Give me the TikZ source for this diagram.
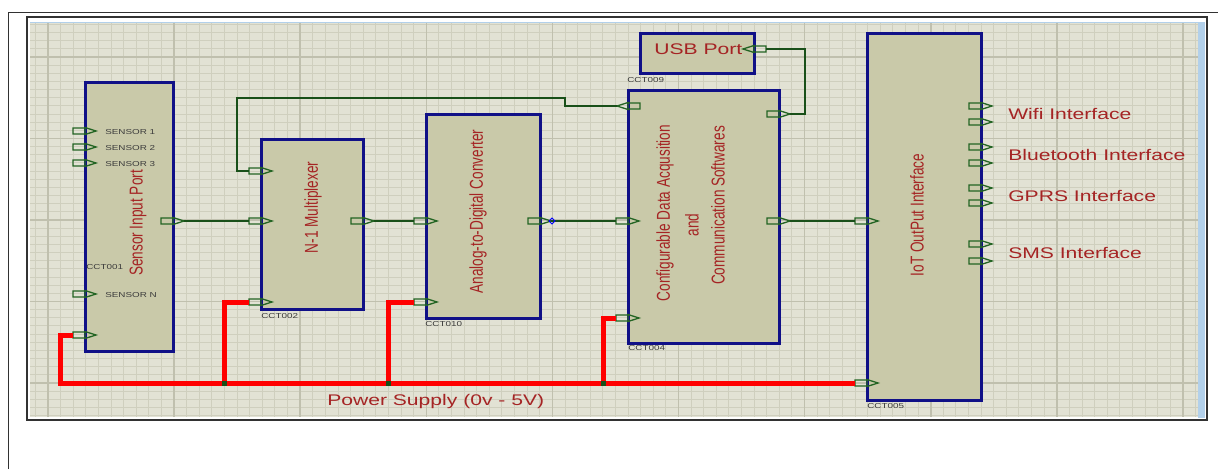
\documentclass[tikz,border=0pt]{standalone}
\usepackage{fontspec}
\setmainfont{Liberation Sans}
\usetikzlibrary{positioning,calc}

\definecolor{gridbg}{RGB}{226,226,212}
\definecolor{gridmin}{RGB}{207,207,190}
\definecolor{gridmaj}{RGB}{192,192,174}
\definecolor{blkfill}{RGB}{201,201,169}
\definecolor{blkline}{RGB}{16,16,135}
\definecolor{wirecol}{RGB}{25,80,25}
\definecolor{pincol}{RGB}{35,100,35}
\definecolor{lblred}{RGB}{165,36,36}
\definecolor{tagcol}{RGB}{60,60,60}
\definecolor{pwrcol}{RGB}{255,0,0}
\definecolor{frame}{RGB}{50,50,50}
\definecolor{paneblue}{RGB}{178,208,234}

% pin pointing right, box edge at #2, height #3
\newcommand\pinR[3]{%
  \draw[pinline] (#2-12,#3-3) rectangle (#2,#3+3) (#2,#3-3.5) -- (#2+11,#3) -- (#2,#3+3.5) -- cycle;
  \coordinate (#1a) at (#2-12,#3);
  \coordinate (#1b) at (#2+11,#3);}
% pin pointing left
\newcommand\pinL[3]{%
  \draw[pinline] (#2,#3-3) rectangle (#2+12,#3+3) (#2,#3-3.5) -- (#2-11,#3) -- (#2,#3+3.5) -- cycle;
  \coordinate (#1a) at (#2-11,#3);
  \coordinate (#1b) at (#2+12,#3);}

\begin{document}
\begin{tikzpicture}[x=1pt,y=-1pt,
  blk/.style={draw=blkline,fill=blkfill,line width=3pt,inner sep=0pt},
  pinline/.style={draw=pincol,line width=1.3pt},
  sig/.style={draw=wirecol,line width=2pt},
  pwr/.style={draw=pwrcol,line width=5pt},
  vtext/.style={rotate=90,yscale=1.37,text=lblred,inner sep=0pt,font=\fontsize{13.6}{16}\selectfont},
  htext/.style={xscale=1.37,text=lblred,inner sep=0pt,anchor=base west,font=\fontsize{15.4}{18}\selectfont},
  tag/.style={xscale=1.37,text=tagcol,inner sep=0pt,anchor=base west,font=\fontsize{7.2}{8}\selectfont}]
 \useasboundingbox[fill=white] (0,0) rectangle (1218,469);
 % window frames
 \draw[frame,line width=1pt] (8,469) -- (8,12) -- (1218,12);
 \draw[frame,line width=1.5pt] (27,17) rectangle (1207,420);
 \fill[paneblue] (1198,22) rectangle (1205,418);
 \draw[paneblue,line width=1pt] (30,22) -- (1198,22);
 % grid
 \begin{scope}
  \clip (30,23) rectangle (1198,417);
  \fill[gridbg] (30,23) rectangle (1198,417);
  \foreach \k in {-2,...,92} \draw[gridmin,line width=1pt] ({48+12.61*\k},23) -- ++(0,394);
  \foreach \k in {-5,...,45} \draw[gridmin,line width=1pt] (30,{383-8.15*\k}) -- ++(1168,0);
  \foreach \k in {0,...,9} \draw[gridmaj,line width=1.6pt] ({48+126.1*\k},23) -- ++(0,394);
  \foreach \k in {0,...,4} \draw[gridmaj,line width=1.6pt] (30,{383-81.5*\k}) -- ++(1168,0);
 \end{scope}

 % blocks
 \node[blk,minimum width=88,minimum height=269] (sip) at (129,216.5) {};
 \node[blk,minimum width=102,minimum height=170] (mux) at (312,224) {};
 \node[blk,minimum width=114,minimum height=204] (adc) at (483,216) {};
 \node[blk,minimum width=151,minimum height=253] (cfg) at (703.5,216.5) {};
 \node[blk,minimum width=114,minimum height=40] (usb) at (697,53) {};
 \node[blk,minimum width=114,minimum height=367] (iot) at (924,216.5) {};

 % pins
 \foreach \y [count=\k] in {131,147,163,294} {\pinR{sipS\k}{85}{\y}}
 \pinR{sipP}{85}{335} \pinR{sipO}{173}{221}
 \pinR{muxF}{261}{171} \pinR{muxI}{261}{221} \pinR{muxP}{261}{302} \pinR{muxO}{363}{221}
 \pinR{adcI}{426}{221} \pinR{adcP}{426}{302} \pinR{adcO}{540}{221}
 \pinL{cfgF}{628}{106} \pinR{cfgI}{628}{221} \pinR{cfgP}{628}{318}
 \pinR{cfgU}{779}{114} \pinR{cfgO}{779}{221}
 \pinL{usbP}{754}{49}
 \pinR{iotI}{867}{221} \pinR{iotP}{867}{383}
 \foreach \y [count=\k] in {106,122,147,163,188,203,244,261} {\pinR{iotR\k}{981}{\y}}

 % signal wires
 \draw[sig] (sipOb) -- (muxIa);
 \draw[sig] (muxOb) -- (adcIa);
 \draw[sig] (adcOb) -- (cfgIa);
 \draw[sig] (cfgOb) -- (iotIa);
 \draw[sig] (cfgFa) -- (565,106) |- (237,98) |- (muxFa);
 \draw[sig] (usbPb) -- (805,49) |- (cfgUb);
 \draw[blue,line width=0.8pt] (549,221) -- (552,218) -- (555,221) -- (552,224) -- cycle;

 % power rail
 \coordinate (j1) at (224,383);
 \coordinate (j2) at (388,383);
 \coordinate (j3) at (603,383);
 \draw[pwr] (sipPa) -- (60,335) |- (iotPa);
 \draw[pwr] (j1) |- (muxPa);
 \draw[pwr] (j2) |- (adcPa);
 \draw[pwr] (j3) |- (cfgPa);
 \foreach \j in {j1,j2,j3} \fill[wirecol] ($(\j)+(-2.5,-2.5)$) rectangle ++(5,5);

 % block texts
 \node[vtext] (sipT) at (138,223) {Sensor Input Port};
 \node[vtext] (muxT) at (313,207.5) {N-1 Multiplexer};
 \node[vtext] (adcT) at (478,211.5) {Analog-to-Digital Converter};
 \node[vtext] (cfgT1) at (665,213) {Configurable Data Acqusition};
 \node[vtext] (cfgT2) at (692,225) {and};
 \node[vtext] (cfgT3) at (718,205.5) {Communication Softwares};
 \node[vtext] (iotT) at (917,215) {IoT OutPut Interface};
 \node[htext] (usbT) at (654,54) {USB Port};
 \node[htext] (wifiT) at (1008,119) {Wifi Interface};
 \node[htext] (btT) at (1008,160) {Bluetooth Interface};
 \node[htext] (gprsT) at (1008,201) {GPRS Interface};
 \node[htext] (smsT) at (1008,258) {SMS Interface};
 \node[htext] (pwrT) at (327,405) {Power Supply (0v - 5V)};

 % pin and part tags
 \node[tag] (s1T) at (105,134) {SENSOR 1};
 \node[tag] (s2T) at (105,150) {SENSOR 2};
 \node[tag] (s3T) at (105,166) {SENSOR 3};
 \node[tag] (sNT) at (105,297) {SENSOR N};
 \node[tag] (sipR) at (86,269) {CCT001};
 \node[tag] (muxR) at (261,318) {CCT002};
 \node[tag] (adcR) at (425,326) {CCT010};
 \node[tag] (cfgR) at (628,350) {CCT004};
 \node[tag] (usbR) at (627,82) {CCT009};
 \node[tag] (iotR) at (867,408) {CCT005};
\end{tikzpicture}
\end{document}
